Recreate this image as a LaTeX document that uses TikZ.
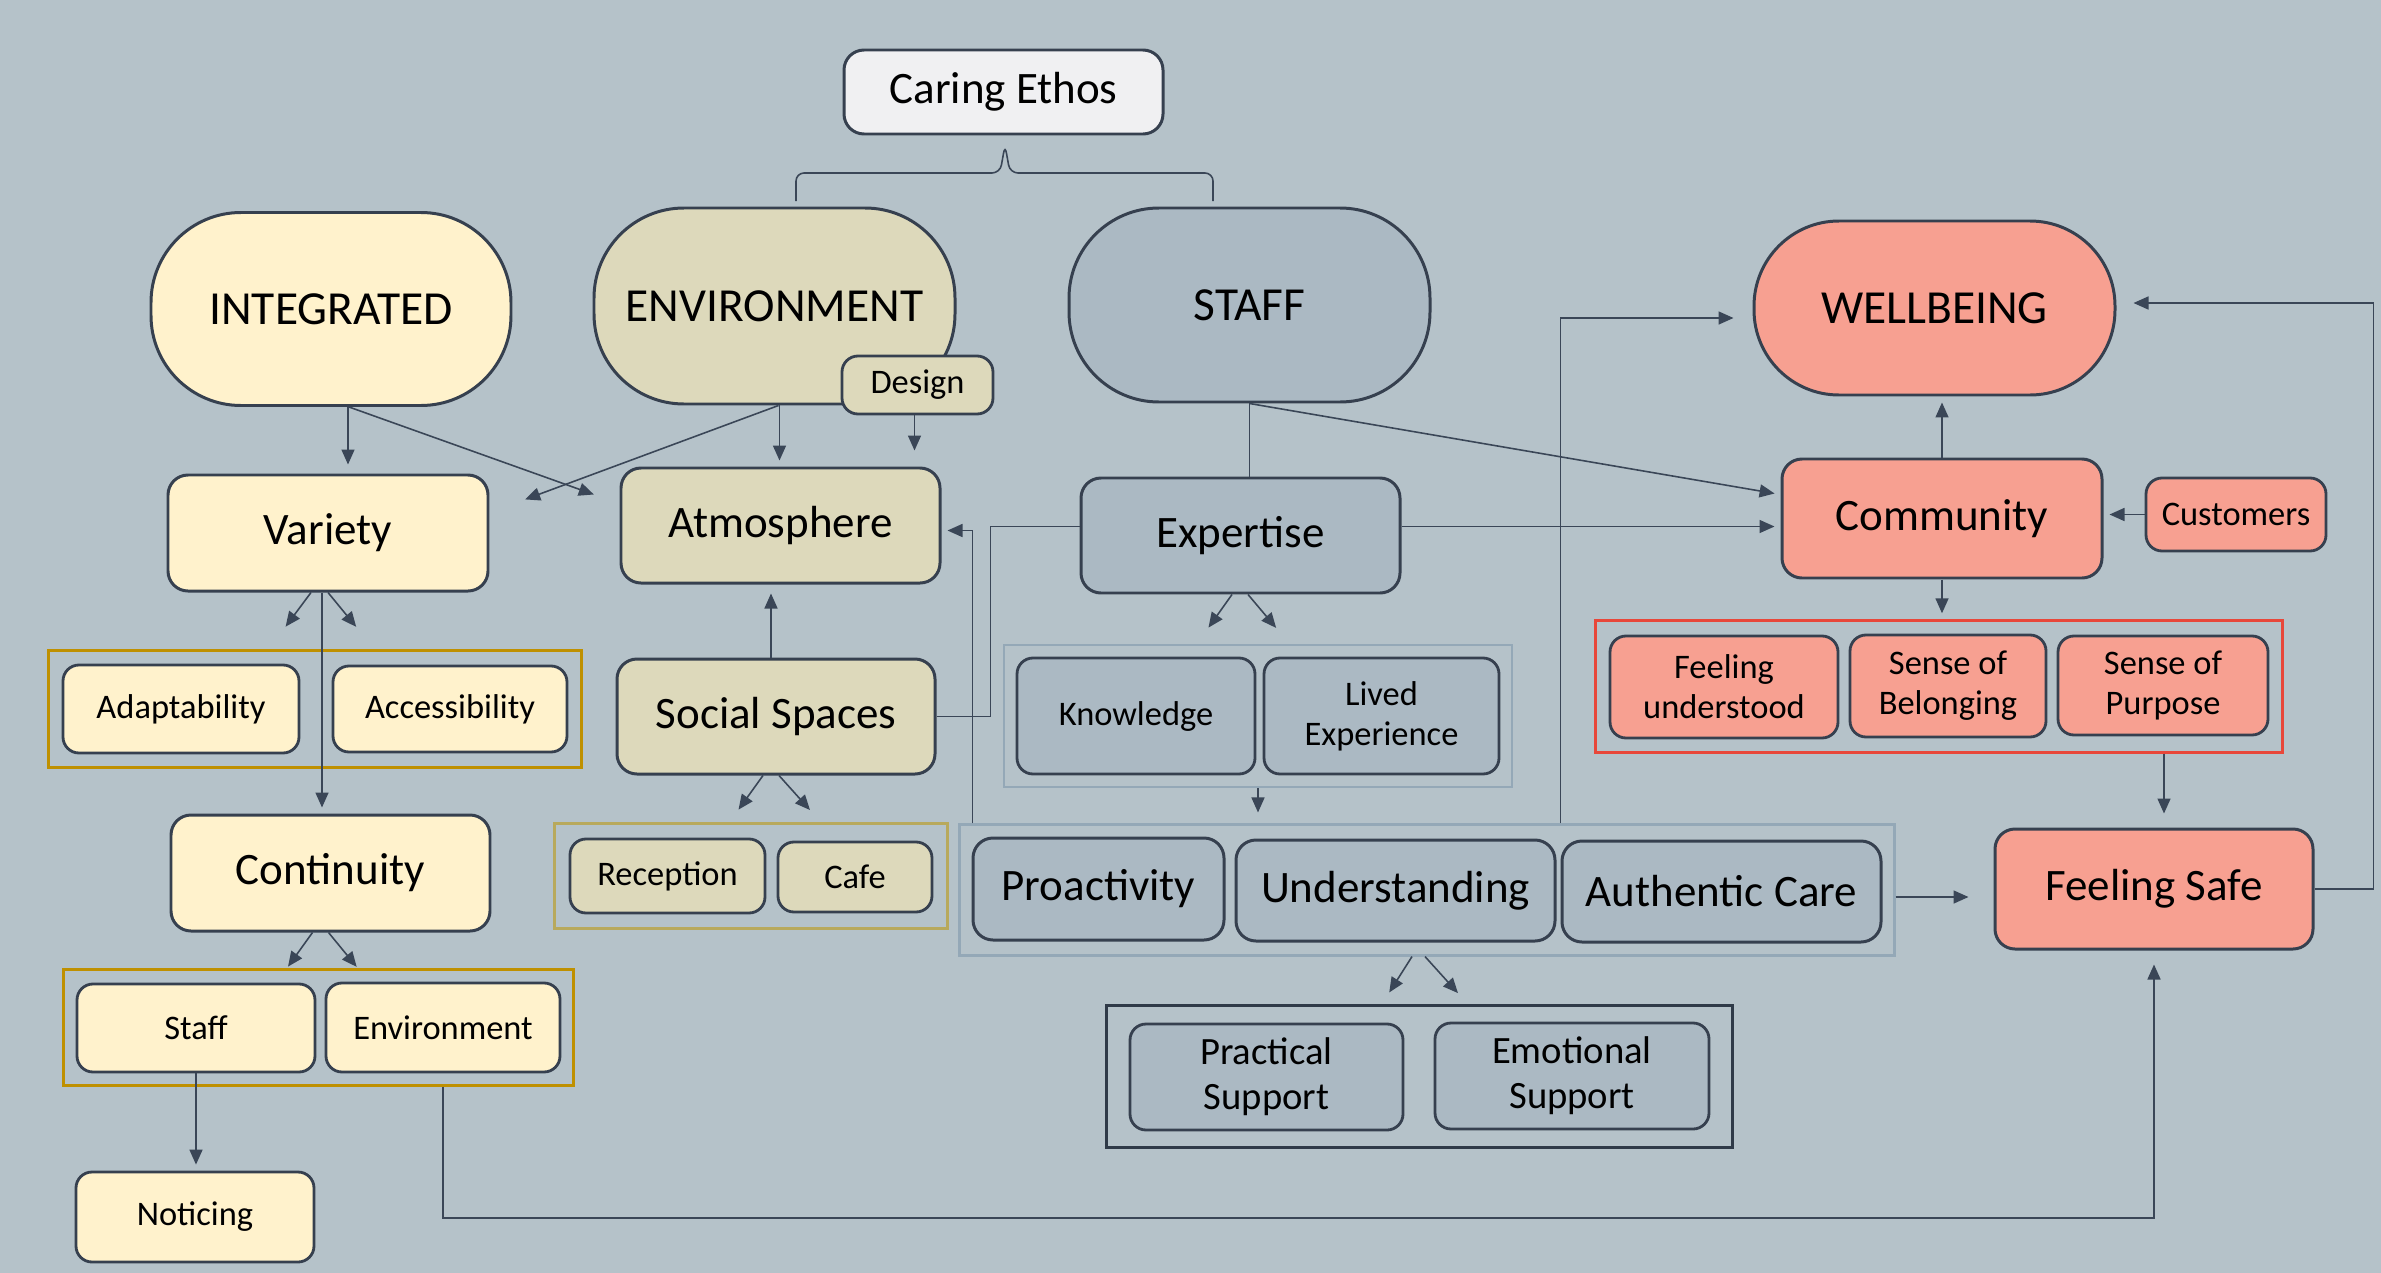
\documentclass[tikz,border=0pt]{standalone}
\usepackage{fontspec}
\setmainfont{Carlito}
\usepackage{xcolor}
\usepackage{tikz}
\usetikzlibrary{positioning,fit,arrows.meta}

\definecolor{bgcol}{HTML}{B5C2C9}
\definecolor{edge}{HTML}{36404F}
\definecolor{arrcol}{HTML}{3A4657}
\definecolor{ethos}{HTML}{F0F0F2}
\definecolor{yel}{HTML}{FFF2CC}
\definecolor{khaki}{HTML}{DDD9BB}
\definecolor{blueg}{HTML}{ABB9C3}
\definecolor{salmon}{HTML}{F7A091}
\definecolor{gold}{HTML}{BF9000}
\definecolor{olive}{HTML}{B8A95C}
\definecolor{lightb}{HTML}{94A8B7}
\definecolor{darkb}{HTML}{2F3A48}
\definecolor{redb}{HTML}{E8473A}

\begin{document}
\begin{tikzpicture}[
    % GLOBAL CFG
    >={Triangle[length=1.5mm,width=1.3mm]},
    % Styles
    oval/.style={% For the four big themes
        rectangle,
        rounded corners=9mm,
        draw=edge,
        line width=0.85pt,
        minimum width=3.61cm,
        minimum height=1.94cm,
        font=\fontsize{13.5}{16}\selectfont,
        },
    cell/.style={% For the main boxes
        rectangle,
        rounded corners=2mm,
        draw=edge,
        line width=0.85pt,
        minimum width=3.19cm,
        minimum height=1.15cm,
        font=\fontsize{12.8}{15}\selectfont,
        },
    sub/.style={% For the small boxes
        rectangle,
        rounded corners=1.6mm,
        draw=edge,
        line width=0.8pt,
        inner sep=1pt,
        align=center,
        font=\fontsize{9.8}{11.4}\selectfont,
        },
    grp/.style={% Frames round a group
        rectangle,
        draw,
        line width=0.75pt,
        inner sep=1.2mm,
        },
    ArrowA/.style={% Arrows
        ->,
        draw=arrcol,
        line width=0.45pt,
        shorten >=0.6mm,
        },
    LineA/.style={% Plain links
        draw=arrcol,
        line width=0.45pt,
        },
    ]

    % background
    \fill[bgcol] (0,0) rectangle (23.81,-12.73);

    % Top
    \node [cell, fill=ethos, minimum height=0.84cm] (ethos) at (10.035,-0.92) {Caring Ethos};
    \draw [LineA, rounded corners=0.8mm] (7.96,-2.01) |- (10.0,-1.73) -- (10.05,-1.45) -- (10.10,-1.73) -| (12.13,-2.01);

    % Themes
    \node [oval, fill=yel, minimum width=3.60cm, minimum height=1.93cm] (integ) at (3.31,-3.09) {INTEGRATED};
    \node [oval, fill=khaki, minimum height=1.96cm] (envr) at (7.745,-3.06) {ENVIRONMENT};
    \node [oval, fill=blueg] (stf) at (12.495,-3.05) {STAFF};
    \node [oval, fill=salmon, minimum height=1.74cm, rounded corners=8.5mm] (well) at (19.345,-3.08) {WELLBEING};
    \node [sub, fill=khaki, minimum width=1.51cm, minimum height=0.58cm] (dsgn) at (9.175,-3.85) {Design};

    % Second row
    \node [cell, fill=yel, minimum width=3.2cm, minimum height=1.16cm] (var) at (3.28,-5.33) {Variety};
    \node [cell, fill=khaki] (atm) at (7.805,-5.255) {Atmosphere};
    \node [cell, fill=blueg] (expt) at (12.405,-5.355) {Expertise};
    \node [cell, fill=salmon, minimum width=3.2cm, minimum height=1.19cm] (comm) at (19.42,-5.185) {Community};
    \node [sub, fill=salmon, minimum width=1.8cm, minimum height=0.73cm] (cust) at (22.36,-5.145) {Customers};

    % Third row
    \node [sub, fill=yel, minimum width=2.36cm, minimum height=0.88cm] (adapt) at (1.81,-7.09) {Adaptability};
    \node [sub, fill=yel, minimum width=2.34cm, minimum height=0.86cm] (access) at (4.50,-7.09) {Accessibility};
    \node [cell, fill=khaki, minimum width=3.18cm] (soc) at (7.76,-7.165) {Social Spaces};
    \node [sub, fill=blueg, minimum width=2.38cm, minimum height=1.16cm] (know) at (11.36,-7.16) {Knowledge};
    \node [sub, fill=blueg, minimum width=2.35cm, minimum height=1.16cm] (lived) at (13.815,-7.16) {Lived\\Experience};
    \node [sub, fill=salmon, minimum width=2.28cm, minimum height=1.02cm] (feelu) at (17.24,-6.87) {Feeling\\understood};
    \node [sub, fill=salmon, minimum width=1.96cm, minimum height=1.02cm] (sbel) at (19.48,-6.86) {Sense of\\Belonging};
    \node [sub, fill=salmon, minimum width=2.10cm, minimum height=0.99cm] (spur) at (21.63,-6.855) {Sense of\\Purpose};

    % Fourth row
    \node [cell, fill=yel, minimum height=1.16cm] (cont) at (3.305,-8.73) {Continuity};
    \node [sub, fill=khaki, minimum width=1.95cm, minimum height=0.74cm] (recep) at (6.675,-8.76) {Reception};
    \node [sub, fill=khaki, minimum width=1.54cm, minimum height=0.70cm] (cafe) at (8.55,-8.77) {Cafe};
    \node [cell, fill=blueg, minimum width=2.51cm, minimum height=1.02cm] (proac) at (10.985,-8.89) {Proactivity};
    \node [cell, fill=blueg, minimum height=1.01cm] (under) at (13.955,-8.905) {Understanding};
    \node [cell, fill=blueg, minimum height=1.01cm] (authc) at (17.215,-8.915) {Authentic Care};
    \node [cell, fill=salmon, minimum width=3.18cm, minimum height=1.20cm] (safe) at (21.54,-8.89) {Feeling Safe};

    % Bottom rows
    \node [sub, fill=yel, minimum width=2.38cm, minimum height=0.88cm] (staffs) at (1.96,-10.28) {Staff};
    \node [sub, fill=yel, minimum width=2.34cm, minimum height=0.89cm] (envs) at (4.43,-10.275) {Environment};
    \node [sub, fill=blueg, minimum width=2.73cm, minimum height=1.06cm, font=\fontsize{11}{12.8}\selectfont] (pract) at (12.665,-10.77) {Practical\\Support};
    \node [sub, fill=blueg, minimum width=2.74cm, minimum height=1.06cm, font=\fontsize{11}{12.8}\selectfont] (emot) at (15.72,-10.76) {Emotional\\Support};
    \node [sub, fill=yel, minimum width=2.38cm, minimum height=0.90cm] (notic) at (1.95,-12.17) {Noticing};

    % Group frames
    \node [grp, draw=gold, inner sep=1.3mm, fit=(adapt)(access)] (grp1) {};
    \node [grp, draw=olive, inner sep=1.4mm, fit=(recep)(cafe)] (grp2) {};
    \node [grp, draw=gold, fit=(staffs)(envs)] (grp3) {};
    \node [grp, draw=lightb, line width=0.6pt, fit=(know)(lived)] (grp4) {};
    \node [grp, draw=lightb, line width=0.6pt, fit=(proac)(under)(authc)] (grp5) {};
    \node [grp, draw=darkb, inner xsep=2.2mm, inner ysep=1.6mm, fit=(pract)(emot)] (grp6) {};
    \node [grp, draw=redb, inner sep=1.3mm, fit=(feelu)(sbel)(spur)] (grp7) {};

    % Integrated branch
    \draw [ArrowA, shorten >=0.9mm] ([xshift=1.7mm]integ.south) -- ([xshift=2mm]var.north);
    \draw [ArrowA] ([xshift=1.8mm]integ.south) -- ([shift={(-2mm,-3mm)}]atm.north west);
    \draw [ArrowA] (var.south) ++(-1.7mm,0) -- ++(-2.9mm,-3.9mm);
    \draw [ArrowA] (var.south) -- ++(3.2mm,-3.9mm);
    \draw [ArrowA] ([xshift=-0.6mm]var.south) -- ([xshift=-0.6mm]var.south |- cont.north);
    \draw [ArrowA] (cont.south) ++(-1.8mm,0) -- ++(-2.8mm,-3.9mm);
    \draw [ArrowA] (cont.south) ++(-0.2mm,0) -- ++(3.2mm,-3.9mm);
    \draw [ArrowA] (staffs.south) -- (staffs.south |- notic.north);
    \draw [ArrowA, shorten >=1.4mm] (envs |- grp3.south) -- ++(0,-1.31) -| (safe.south);

    % Environment branch
    \draw [ArrowA] ([xshift=0.4mm]envr.south) -- ([shift={(3mm,-2.8mm)}]var.north east);
    \draw [ArrowA] ([xshift=0.5mm]envr.south) -- ([xshift=0.5mm]envr.south |- atm.north);
    \draw [ArrowA, shorten >=1.6mm] ([xshift=-0.3mm]dsgn.south) -- ([xshift=-0.3mm]dsgn.south |- atm.north);
    \draw [ArrowA, shorten >=0.9mm] ([xshift=-0.5mm]soc.north) -- ([xshift=-0.5mm]soc.north |- atm.south);
    \draw [ArrowA] (soc.south) ++(-1.3mm,0) -- ++(-2.8mm,-3.9mm);
    \draw [ArrowA] (soc.south) ++(0.3mm,0) -- ++(3.5mm,-3.9mm);
    \draw [LineA] (soc.east) -- ++(5.4mm,0) |- ([yshift=0.9mm]expt.west);
    \draw [ArrowA] ([xshift=1.4mm]grp5.north west) |- ([yshift=-0.5mm]atm.east);

    % Staff branch
    \draw [LineA] (stf.south) -- (stf.south |- expt.north);
    \draw [ArrowA] (stf.south) -- ([yshift=2.4mm]comm.west);
    \draw [ArrowA] ([yshift=0.9mm]expt.east) -- ([yshift=0.9mm]expt.east -| comm.west);
    \draw [ArrowA] (expt.south) ++(-0.85mm,0) -- ++(-2.7mm,-3.8mm);
    \draw [ArrowA] (expt.south) ++(0.75mm,0) -- ++(3.2mm,-3.8mm);
    \draw [ArrowA, shorten >=1.1mm] (grp4.south) -- (grp4.south |- grp5.north);
    \draw [ArrowA, shorten >=1.9mm] (authc.west |- grp5.north) |- ([yshift=-1mm]well.west);
    \draw [ArrowA] (grp5.south) ++(-1.5mm,0) -- ++(-2.6mm,-4.1mm);
    \draw [ArrowA] (grp5.south) ++(-0.2mm,0) -- ++(3.7mm,-4.1mm);
    \draw [ArrowA, shorten >=2.5mm] ([yshift=-0.7mm]grp5.east) -- ([yshift=-0.7mm]grp5.east -| safe.west);

    % Wellbeing branch
    \draw [ArrowA] (comm.north) -- (comm.north |- well.south);
    \draw [ArrowA] (cust.west) -- (cust.west -| comm.east);
    \draw [ArrowA] (comm.south) -- (comm.south |- grp7.north);
    \draw [ArrowA, shorten >=1.4mm] ([xshift=1mm]safe.north |- grp7.south) -- ([xshift=1mm]safe.north);
    \draw [ArrowA, shorten >=1.7mm] (safe.east) -- ++(5.9mm,0) |- ([yshift=0.5mm]well.east);

\end{tikzpicture}
\end{document}
